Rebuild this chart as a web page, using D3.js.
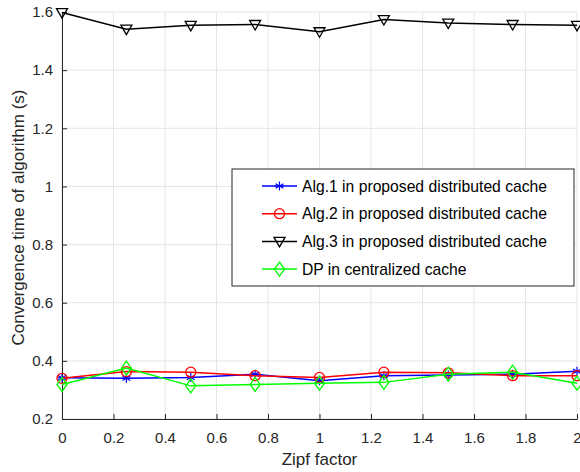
<!DOCTYPE html>
<html lang="en">
<head>
<meta charset="UTF-8">
<title>Convergence time</title>
<script src="https://d3js.org/d3.v7.min.js"></script>
<style>
    body { margin: 0; background: #fff; }
    svg { display: block; font-family: "Liberation Sans", Arial, sans-serif; }
    .tick text { font-size: 15px; fill: #262626; }
    .grid line { stroke: #e5e5e5; stroke-width: 1; }
</style>
</head>
<body>
<script>
    const zipf = [0, 0.25, 0.5, 0.75, 1, 1.25, 1.5, 1.75, 2];
    const alg1 = [0.342, 0.340, 0.343, 0.354, 0.332, 0.349, 0.351, 0.354, 0.364];
    const alg2 = [0.340, 0.363, 0.361, 0.349, 0.343, 0.361, 0.359, 0.349, 0.349];
    const alg3 = [1.598, 1.541, 1.554, 1.557, 1.532, 1.574, 1.562, 1.557, 1.554];
    const dp   = [0.319, 0.375, 0.314, 0.319, 0.323, 0.326, 0.354, 0.361, 0.323];
    const xTicks = [0, 0.2, 0.4, 0.6, 0.8, 1, 1.2, 1.4, 1.6, 1.8, 2];
    const yTicks = [0.2, 0.4, 0.6, 0.8, 1, 1.2, 1.4, 1.6];

    const width = 580, height = 472;
    const margins = {top: 12, bottom: 53, left: 62, right: 3};

    const series = [
        {name: "Alg.1 in proposed distributed cache", values: alg1, color: "#0000ff", marker: "star"},
        {name: "Alg.2 in proposed distributed cache", values: alg2, color: "#ff0000", marker: "circle"},
        {name: "Alg.3 in proposed distributed cache", values: alg3, color: "#000000", marker: "tri"},
        {name: "DP in centralized cache", values: dp, color: "#00ff00", marker: "diamond"}
    ];

    const svg = d3.select("body").append("svg")
        .attr("width", width).attr("height", height);

    const xScale = d3.scaleLinear().domain([0, 2]).range([margins.left, width - margins.right]);
    const yScale = d3.scaleLinear().domain([0.2, 1.6]).range([height - margins.bottom, margins.top]);

    // grid
    const grid = svg.append("g").attr("class", "grid");
    grid.selectAll(".gx").data(xTicks).enter().append("line")
        .attr("x1", d => xScale(d)).attr("x2", d => xScale(d))
        .attr("y1", yScale(0.2)).attr("y2", yScale(1.6));
    grid.selectAll(".gy").data(yTicks).enter().append("line")
        .attr("x1", xScale(0)).attr("x2", xScale(2))
        .attr("y1", d => yScale(d)).attr("y2", d => yScale(d));

    // axes, ticks inside like matlab
    const xAxis = d3.axisBottom(xScale).tickValues(xTicks).tickFormat(d3.format("~g"))
        .tickSizeInner(-5).tickSizeOuter(0).tickPadding(13);
    const yAxis = d3.axisLeft(yScale).tickValues(yTicks).tickFormat(d3.format("~g"))
        .tickSizeInner(-5).tickSizeOuter(0).tickPadding(9);

    const gx = svg.append("g").attr("transform", `translate(0,${yScale(0.2)})`).call(xAxis);
    const gy = svg.append("g").attr("transform", `translate(${xScale(0)},0)`).call(yAxis);
    [gx, gy].forEach(g => {
        g.select(".domain").attr("stroke", "#262626");
        g.selectAll(".tick line").attr("stroke", "#262626");
    });

    svg.append("text")
        .attr("x", (xScale(0) + xScale(2)) / 2).attr("y", 465)
        .attr("text-anchor", "middle").attr("font-size", 17).attr("fill", "#262626")
        .text("Zipf factor");
    svg.append("text")
        .attr("transform", `translate(24,${(yScale(0.2) + yScale(1.6)) / 2 + 2}) rotate(-90)`)
        .attr("text-anchor", "middle").attr("font-size", 17).attr("fill", "#262626")
        .text("Convergence time of algorithm (s)");

    // marker drawing
    function drawMarker(g, type, color) {
        if (type === "star") {
            const r = 4.5;
            [0, 60, 120].forEach(a => {
                g.append("line").attr("x1", 0).attr("y1", -r).attr("x2", 0).attr("y2", r)
                    .attr("transform", `rotate(${a})`).attr("stroke", color).attr("stroke-width", 1.2);
            });
            g.append("line").attr("x1", -r).attr("x2", r).attr("y1", 0).attr("y2", 0)
                .attr("stroke", color).attr("stroke-width", 1.2);
        } else if (type === "circle") {
            g.append("circle").attr("r", 5).attr("fill", "none").attr("stroke", color).attr("stroke-width", 1.3);
        } else if (type === "tri") {
            g.append("path").attr("d", "M-5.5,-4 L5.5,-4 L0,5.5 Z")
                .attr("fill", "none").attr("stroke", color).attr("stroke-width", 1.3);
        } else {
            g.append("path").attr("d", "M0,-7 L5,0 L0,7 L-5,0 Z")
                .attr("fill", "none").attr("stroke", color).attr("stroke-width", 1.3);
        }
    }

    const line = d3.line().x((d, i) => xScale(zipf[i])).y(d => yScale(d));

    series.forEach(s => {
        svg.append("path").datum(s.values)
            .attr("d", line).attr("fill", "none")
            .attr("stroke", s.color).attr("stroke-width", 1.5);
        s.values.forEach((v, i) => {
            const g = svg.append("g").attr("transform", `translate(${xScale(zipf[i])},${yScale(v)})`);
            drawMarker(g, s.marker, s.color);
        });
    });

    // legend
    const legend = svg.append("g").attr("transform", "translate(232,169)");
    legend.append("rect").attr("width", 342).attr("height", 117)
        .attr("fill", "#fff").attr("stroke", "#262626").attr("stroke-width", 1);
    series.forEach((s, i) => {
        const yy = 17 + i * 27.7;
        const row = legend.append("g").attr("transform", `translate(0,${yy})`);
        row.append("line").attr("x1", 30).attr("x2", 65).attr("y1", 0).attr("y2", 0)
            .attr("stroke", s.color).attr("stroke-width", 1.5);
        const m = row.append("g").attr("transform", "translate(47.5,0)");
        drawMarker(m, s.marker, s.color);
        row.append("text").attr("x", 70).attr("y", 5.5).attr("font-size", 15.7).attr("fill", "#000")
            .text(s.name);
    });
</script>
</body>
</html>
